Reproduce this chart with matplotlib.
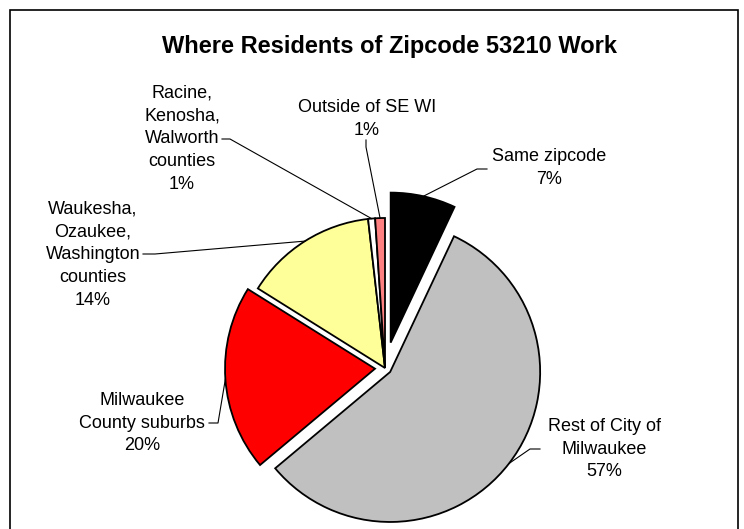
import numpy as np
import matplotlib.pyplot as plt
from matplotlib.patches import Rectangle

plt.rcParams['font.family'] = ['Liberation Sans', 'DejaVu Sans']

# slices, clockwise from 12 o'clock
labels = ["Same zipcode", "Rest of City of\nMilwaukee", "Milwaukee\nCounty suburbs",
          "Waukesha,\nOzaukee,\nWashington\ncounties", "Racine,\nKenosha,\nWalworth\ncounties",
          "Outside of SE WI"]
shares = [7.0, 56.9, 20.0, 14.3, 0.75, 1.05]
pct_text = ["7%", "57%", "20%", "14%", "1%", "1%"]
colors = ["#000000", "#C0C0C0", "#FF0000", "#FFFF99", "#FFFFFF", "#FF8080"]
explode = [26, 6.5, 10, 0, 0, 0]   # pie offsets, in px

W, H = 744, 529
fig = plt.figure(figsize=(W / 100, H / 100), dpi=100)
ax = fig.add_axes([0, 0, 1, 1])

cx, cy, R = 385, H - 368, 150
wedges, _ = ax.pie(shares, colors=colors, explode=explode, startangle=90, counterclock=False,
                   center=(cx, cy), radius=R, frame=True,
                   wedgeprops=dict(edgecolor="black", linewidth=1.3))
ax.set_xlim(0, W)
ax.set_ylim(0, H)
ax.axis("off")

# frame around chart
fig.patches.append(Rectangle((10 / W, -0.1), 728 / W, (H - 10) / H + 0.1, transform=fig.transFigure,
                             fill=False, edgecolor="black", linewidth=1.2))

ax.text(389, H - 47, "Where Residents of Zipcode 53210 Work", ha="center", va="center",
        fontsize=17, fontweight="bold")

# label block centres (image px) and leader elbows
label_pos = [(549, 168), (604, 449), (142, 423), (93, 254.5), (182, 138.5), (367, 119)]
elbows = [[(477, 169), (487, 169)], [(530, 449), (540, 449)], [(218, 423), (209, 423)],
          [(155, 254), (143, 254)], [(230, 139), (222, 139)], [(366, 147), (366, 140)]]

for w, lab, pct, (lx, ly), elb in zip(wedges, labels, pct_text, label_pos, elbows):
    mid = np.deg2rad((w.theta1 + w.theta2) / 2)
    px = w.center[0] + w.r * np.cos(mid)
    py = w.center[1] + w.r * np.sin(mid)
    xs = [px] + [e[0] for e in elb]
    ys = [py] + [H - e[1] for e in elb]
    ax.plot(xs, ys, color="black", linewidth=0.8)
    ax.text(lx, H - ly, lab + "\n" + pct, ha="center", va="center", multialignment="center",
            fontsize=13, linespacing=1.45)

fig.savefig("out.png", dpi=100)
